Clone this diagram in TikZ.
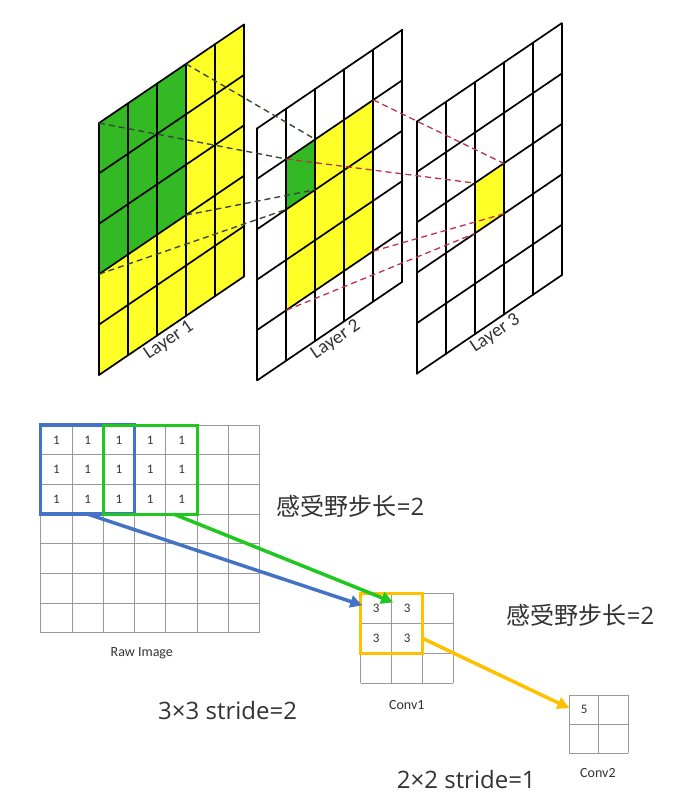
\documentclass[tikz,border=0pt]{standalone}
\usepackage{fontspec}
\setmainfont{Carlito}
\newfontfamily\cjkfont{Noto Sans CJK SC}
\newfontfamily\widefont{Open Sans}
\usetikzlibrary{arrows.meta}

\definecolor{layergreen}{RGB}{50,185,35}
\definecolor{layeryellow}{RGB}{255,255,40}
\definecolor{linkgray}{RGB}{55,75,55}
\definecolor{linkred}{RGB}{190,50,70}
\definecolor{winblue}{RGB}{68,114,196}
\definecolor{wingreen}{RGB}{30,200,30}
\definecolor{wingold}{RGB}{255,192,0}
\definecolor{textgray}{RGB}{50,50,50}

\tikzset{
  layer/.style={x={(29pt,19.7pt)}, y={(0pt,-50.4pt)}},
  layerline/.style={line width=1.7pt, line cap=round},
  layerlabel/.style={font=\fontsize{19}{22}\selectfont, text=textgray, anchor=north, rotate=34.2, inner sep=3pt},
  greenlink/.style={draw=linkgray, line width=1.4pt, dash pattern=on 6pt off 4pt},
  redlink/.style={draw=linkred, line width=1.3pt, dash pattern=on 6pt off 4pt},
  thinline/.style={draw=black!40, line width=0.9pt},
  celltext/.style={font=\fontsize{13}{15}\selectfont, text=textgray},
  boxlabel/.style={font=\fontsize{14}{16}\selectfont, text=textgray},
  biglabel/.style={font=\fontsize{24}{28}\selectfont, text=textgray, anchor=west, inner sep=0pt},
  flow/.style={line width=3.5pt, -{Triangle[length=12pt,width=12pt]}},
}

\newcommand\skewfill[5]{\fill[#1] (#2,#3) -- (#4,#3) -- (#4,#5) -- (#2,#5) -- cycle;}
\newcommand\skewgrid{\foreach \k in {0,...,5} {\draw[layerline] (\k,0) -- (\k,5); \draw[layerline] (0,\k) -- (5,\k);}}

\begin{document}
\begin{tikzpicture}[x=1pt, y=-1pt]
\useasboundingbox (0,0) rectangle (678,801);

% three skewed layers
\begin{scope}[shift={(99,123)}, layer]
  \skewfill{layeryellow}{0}{0}{5}{5}
  \skewfill{layergreen}{0}{0}{3}{3}
  \skewgrid
  \coordinate (g1nw) at (0,0);
  \coordinate (g1ne) at (3,0);
  \coordinate (g1se) at (3,3);
  \coordinate (g1sw) at (0,3);
  \node[layerlabel] (layer1) at (2.2,5) {Layer 1};
\end{scope}

\begin{scope}[shift={(257.3,128.3)}, layer]
  \skewfill{layeryellow}{1}{1}{4}{4}
  \skewfill{layergreen}{1}{1}{2}{2}
  \skewgrid
  \coordinate (g2nw) at (1,1);
  \coordinate (g2ne) at (2,1);
  \coordinate (g2se) at (2,2);
  \coordinate (g2sw) at (1,2);
  \coordinate (y2ne) at (4,1);
  \coordinate (y2se) at (4,4);
  \coordinate (y2sw) at (1,4);
  \node[layerlabel] (layer2) at (2.5,5) {Layer 2};
\end{scope}

\begin{scope}[shift={(416.7,121.7)}, layer]
  \skewfill{layeryellow}{2}{2}{3}{3}
  \skewgrid
  \coordinate (y3nw) at (2,2);
  \coordinate (y3ne) at (3,2);
  \coordinate (y3se) at (3,3);
  \coordinate (y3sw) at (2,3);
  \node[layerlabel] (layer3) at (2.5,5) {Layer 3};
\end{scope}

\draw[greenlink] (g1nw) -- (g2nw);
\draw[greenlink] (g1ne) -- (g2ne);
\draw[greenlink] (g1se) -- (g2se);
\draw[greenlink] (g1sw) -- (g2sw);
\draw[redlink] (g2nw) -- (y3nw);
\draw[redlink] (y2ne) -- (y3ne);
\draw[redlink] (y2se) -- (y3se);
\draw[redlink] (y2sw) -- (y3sw);

% raw image
\begin{scope}[shift={(40.7,425)}, x=31.3pt, y=-29.7pt]
  \foreach \k in {0,...,7} {\draw[thinline] (\k,0) -- (\k,7); \draw[thinline] (0,\k) -- (7,\k);}
  \foreach \r in {0,1,2} \foreach \c in {0,...,4} \node[celltext] (raw-\r-\c) at (\c+.5,\r+.5) {1};
  \draw[winblue, line width=3.3pt] (0,0) rectangle (3,3);
  \draw[wingreen, line width=3pt] (2,0) rectangle (5,3);
  \coordinate (bluefoot) at (1.5,3);
  \coordinate (greenfoot) at (4.25,3);
  \node[boxlabel] (rawlabel) at (3.23,7.67) {Raw Image};
\end{scope}

% conv1
\begin{scope}[shift={(360.7,593.3)}, x=30.9pt, y=-30pt]
  \foreach \k in {0,...,3} {\draw[thinline] (\k,0) -- (\k,3); \draw[thinline] (0,\k) -- (3,\k);}
  \foreach \r in {0,1} \foreach \c in {0,1} \node[celltext] (c1-\r-\c) at (\c+.5,\r+.5) {3};
  \draw[wingold, line width=3pt] (0,0) rectangle (2,2);
  \coordinate (bluetip) at (0.05,0.4);
  \coordinate (greentip) at (1.05,0.3);
  \coordinate (goldfoot) at (2,1.5);
  \node[boxlabel] (conv1label) at (1.49,3.72) {Conv1};
\end{scope}

% conv2
\begin{scope}[shift={(569.3,695)}, x=29.5pt, y=-29.2pt]
  \foreach \k in {0,...,2} {\draw[thinline] (\k,0) -- (\k,2); \draw[thinline] (0,\k) -- (2,\k);}
  \node[celltext] (c2-0-0) at (.5,.5) {5};
  \coordinate (goldtip) at (0,0.45);
  \node[boxlabel] (conv2label) at (0.97,2.67) {Conv2};
\end{scope}

\draw[flow, winblue] (bluefoot) -- (bluetip);
\draw[flow, wingreen] (greenfoot) -- (greentip);
\draw[flow, wingold] (goldfoot) -- (goldtip);

\node[biglabel] (step1) at (276.7,506.7) {\cjkfont 感受野步长\widefont =2};
\node[biglabel] (step2) at (506.7,615) {\cjkfont 感受野步长\widefont =2};
\node[biglabel] (kernel1) at (158,710) {\widefont 3×3 stride=2};
\node[biglabel] (kernel2) at (396.7,779) {\widefont 2×2 stride=1};
\end{tikzpicture}
\end{document}
